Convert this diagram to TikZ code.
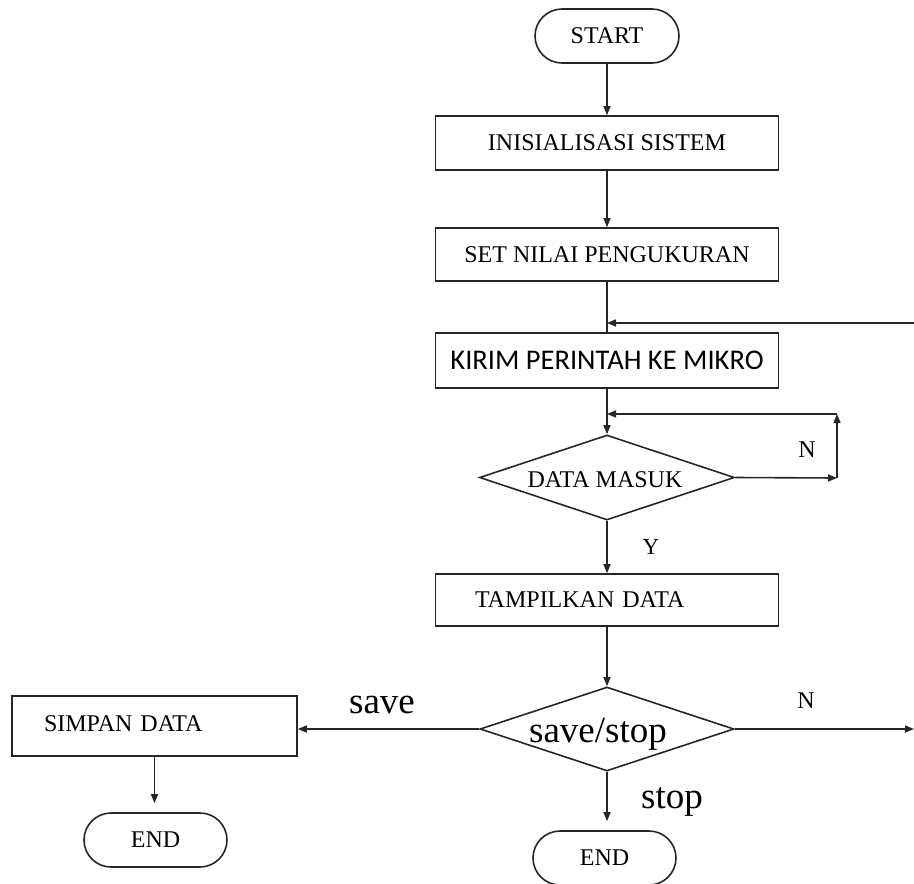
\documentclass[tikz,border=0pt]{standalone}
\usepackage{fontspec}
\setmainfont{Liberation Serif}
\newfontfamily\carl{Carlito}
\usetikzlibrary{shapes.geometric,shapes.misc,arrows.meta}
\begin{document}
\begin{tikzpicture}[x=1pt,y=-1pt,
  line width=1.6pt, draw=black!85,
  >={Triangle[length=9pt,width=7pt]},
  txt/.style={font=\fontsize{24}{28}\selectfont},
  box/.style={draw, rectangle, minimum width=343pt, minimum height=54pt, inner sep=0pt, txt},
  term/.style={draw, rounded rectangle, minimum width=144pt, minimum height=54pt, inner sep=0pt, txt},
  dia/.style={draw, diamond, minimum width=255pt, minimum height=85pt, inner sep=0pt},
  lab/.style={txt, inner sep=0pt},
  big/.style={font=\fontsize{37}{42}\selectfont, inner sep=0pt},
]
\useasboundingbox (0,0) rectangle (914,884);

% nodes
\node[term] (start) at (607,36) {START};
\node[box] (init) at (607,143) {INISIALISASI SISTEM};
\node[box, minimum height=53pt] (set) at (607,254.5) {SET NILAI PENGUKURAN};
\node[box, minimum height=55pt, font=\carl\fontsize{28.5}{32}\selectfont] (kirim) at (607,360.5) {KIRIM PERINTAH KE MIKRO};
\node[dia, label={[lab, xshift=-2pt, yshift=-2pt]center:DATA MASUK}] (dm) at (607,477.5) {};
\node[box, minimum height=52pt, text width=264pt, inner xsep=39pt, align=left] (tamp) at (607,600) {TAMPILKAN DATA};
\node[dia, minimum width=254pt, minimum height=84pt, label={[big, xshift=-9pt, yshift=-5pt]center:save/stop}] (sd) at (607,729) {};
\node[box, minimum width=285pt, minimum height=60pt, text width=221pt, inner xsep=32pt, align=left] (simp) at (154.5,726) {\raisebox{5pt}{SIMPAN DATA}};
\node[term, minimum width=143pt] (end1) at (155.5,840) {END};
\node[term, minimum width=143pt] (end2) at (604.5,858) {END};

% junction coordinates
\coordinate (j1) at (607,323);
\coordinate (r1) at (914,323);
\coordinate (j2) at (607,414);
\coordinate (c1) at (837,478);
\coordinate (c2) at (837,414);
\coordinate (r2) at (914,729);

% connectors
\draw[->] (start) -- (init);
\draw[->] (init) -- (set);
\draw (set) -- (kirim);
\draw[->] (r1) -- (j1);
\draw[->] (kirim) -- (dm);
\draw[->] (dm.east) -- (c1);
\draw[->] (c1) -- (c2);
\draw[->] (c2) -- (j2);
\draw[->] (dm) -- (tamp);
\draw[->] (tamp) -- (sd);
\draw[->] (sd.west) -- (sd.west -| simp.east);
\draw[->] (sd.east) -- (r2);
\draw[->, shorten >=9pt] (simp.south) -- (simp.south |- end1.north);
\draw[->, shorten >=9pt] (sd.south) -- (sd.south |- end2.north);

% labels
\node[lab] (ln1) at (807,450) {N};
\node[lab, font=\fontsize{23}{26}\selectfont] (ly) at (651,547) {Y};
\node[big] (lsave) at (382,705) {save};
\node[lab] (ln2) at (806,701) {N};
\node[big] (lstop) at (672,802) {stop};
\end{tikzpicture}
\end{document}
